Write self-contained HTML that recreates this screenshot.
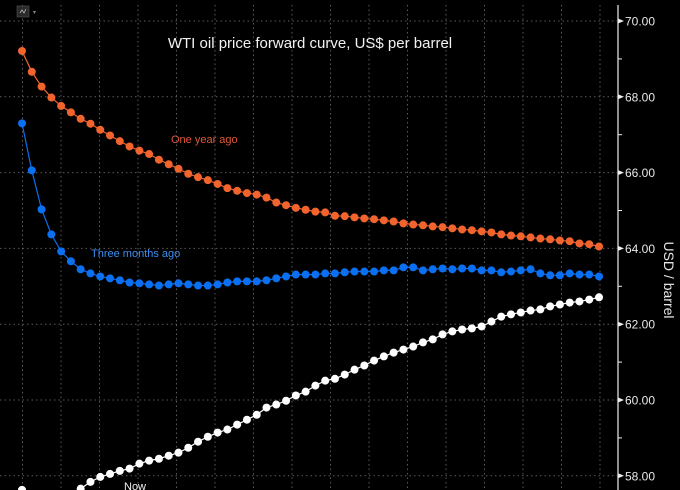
<!DOCTYPE html>
<html><head><meta charset="utf-8"><style>
html,body{margin:0;padding:0;background:#000;width:680px;height:490px;overflow:hidden}
svg{display:block}
text{font-family:"Liberation Sans","DejaVu Sans",sans-serif}
</style></head><body>
<svg id="chart" width="680" height="490" viewBox="0 0 680 490">
<rect width="680" height="490" fill="#000"/>
<g id="grid"></g>
<g>
<rect x="17" y="6" width="12" height="11" fill="#2a2a2a" stroke="#555" stroke-width="0.6"/>
<polyline points="20,13 22,10 24,13 26,9" fill="none" stroke="#bbb" stroke-width="0.8"/>
<text x="33" y="14" font-size="6" fill="#888">▾</text>
</g>
<text x="310" y="48" text-anchor="middle" font-size="15" fill="#f2f2f2">WTI oil price forward curve, US$ per barrel</text>
<g id="series"></g>
<text x="171" y="143" font-size="11" fill="#e0563a" font-family="DejaVu Sans Mono, monospace">One year ago</text>
<text x="91" y="257" font-size="11" fill="#3d8ef0">Three months ago</text>
<text x="124" y="490" font-size="11" fill="#f2f2f2">Now</text>
<line x1="618" y1="5" x2="618" y2="490" stroke="#eee" stroke-width="1.2"/>
<g id="yaxis"></g>
<text transform="translate(664,280) rotate(90)" text-anchor="middle" font-size="14" fill="#e8e8e8">USD / barrel</text>
</svg>
<script>
const yTicks = [58, 60, 62, 64, 66, 68, 70];
const yTickLabels = ["58.00", "60.00", "62.00", "64.00", "66.00", "68.00", "70.00"];
const oneYearAgo = [69.21,68.66,68.27,67.98,67.76,67.59,67.42,67.29,67.13,66.98,66.83,66.69,66.58,66.49,66.34,66.22,66.10,65.97,65.88,65.80,65.70,65.59,65.52,65.46,65.42,65.34,65.21,65.14,65.07,65.02,64.97,64.95,64.86,
64.85,64.82,64.79,64.77,64.74,64.71,64.66,64.63,64.61,64.58,64.56,64.53,64.50,64.48,64.45,64.42,64.37,64.34,64.32,64.29,64.26,64.24,64.21,64.19,64.13,64.11,64.05];
const threeMonthsAgo = [67.30,66.06,65.03,64.37,63.92,63.66,63.45,63.34,63.26,63.21,63.16,63.10,63.08,63.05,63.02,63.05,63.08,63.05,63.02,63.02,63.05,63.10,63.13,63.13,63.13,63.16,63.21,63.26,63.31,63.31,63.31,63.34,63.34,
63.37,63.39,63.39,63.39,63.42,63.42,63.50,63.50,63.42,63.45,63.47,63.45,63.47,63.47,63.42,63.42,63.37,63.39,63.42,63.45,63.34,63.29,63.29,63.34,63.31,63.31,63.26];
const now = [57.63,57.52,57.47,57.45,57.47,57.52,57.66,57.84,57.97,58.05,58.13,58.19,58.32,58.40,58.45,58.53,58.61,58.74,58.90,59.03,59.14,59.22,59.35,59.48,59.61,59.80,59.88,59.98,60.12,60.22,60.38,60.51,60.56,
60.67,60.80,60.91,61.04,61.15,61.25,61.33,61.41,61.52,61.60,61.73,61.81,61.86,61.89,61.94,62.07,62.20,62.26,62.31,62.36,62.39,62.47,62.52,62.57,62.60,62.65,62.71];

const NS = "http://www.w3.org/2000/svg";
const xOf = i => 22 + i * 9.78;
const yOf = v => 21 + (70 - v) * 37.9;

const grid = document.getElementById('grid');
for (let k = 0; k <= 15; k++) {
  const x = 22.5 + k * 38.5;
  const l = document.createElementNS(NS, 'line');
  
  
  l.setAttribute('x1', x); l.setAttribute('x2', x);
  l.setAttribute('y1', 5); l.setAttribute('y2', 490);
  l.setAttribute('stroke', '#5a5a5a'); l.setAttribute('stroke-dasharray', '1.5,3');
  grid.appendChild(l);
}
const yaxis = document.getElementById('yaxis');
yTicks.forEach((t, i) => {
  const y = yOf(t);
  const l = document.createElementNS(NS, 'line');
  
  
  l.setAttribute('x1', 0); l.setAttribute('x2', 617);
  l.setAttribute('y1', y); l.setAttribute('y2', y);
  l.setAttribute('stroke', '#5a5a5a'); l.setAttribute('stroke-dasharray', '1.5,3');
  grid.appendChild(l);
  const tri = document.createElementNS(NS, 'polygon');
  
  
  tri.setAttribute('points', `618,${y-2.5} 624,${y} 618,${y+2.5}`);
  tri.setAttribute('fill', '#eee');
  yaxis.appendChild(tri);
  const tx = document.createElementNS(NS, 'text');
  
  
  tx.setAttribute('x', 625); tx.setAttribute('y', y + 4.5);
  tx.setAttribute('font-size', '12'); tx.setAttribute('fill', '#e8e8e8');
  tx.textContent = yTickLabels[i];
  yaxis.appendChild(tx);
  if (t < 70) {
    const m = document.createElementNS(NS, 'line');
    
    
    const ym = yOf(t + 1);
    m.setAttribute('x1', 618); m.setAttribute('x2', 622);
    m.setAttribute('y1', ym); m.setAttribute('y2', ym);
    m.setAttribute('stroke', '#eee');
    yaxis.appendChild(m);
  }
});

const series = document.getElementById('series');
function draw(vals, color, name) {
  const g = document.createElementNS(NS, 'g');
  
  
  const pl = document.createElementNS(NS, 'polyline');
  
  
  pl.setAttribute('points', vals.map((v, i) => xOf(i) + ',' + yOf(v)).join(' '));
  pl.setAttribute('fill', 'none'); pl.setAttribute('stroke', color); pl.setAttribute('stroke-width', '1.2');
  g.appendChild(pl);
  vals.forEach((v, i) => {
    const c = document.createElementNS(NS, 'circle');
    
    
    c.setAttribute('cx', xOf(i)); c.setAttribute('cy', yOf(v)); c.setAttribute('r', 4);
    c.setAttribute('fill', color);
    g.appendChild(c);
  });
  series.appendChild(g);
}
draw(oneYearAgo, '#f2642d', 'one-year-ago-series');
draw(threeMonthsAgo, '#0a6ff0', 'three-months-ago-series');
draw(now, '#ffffff', 'now-series');
</script>
</body></html>
